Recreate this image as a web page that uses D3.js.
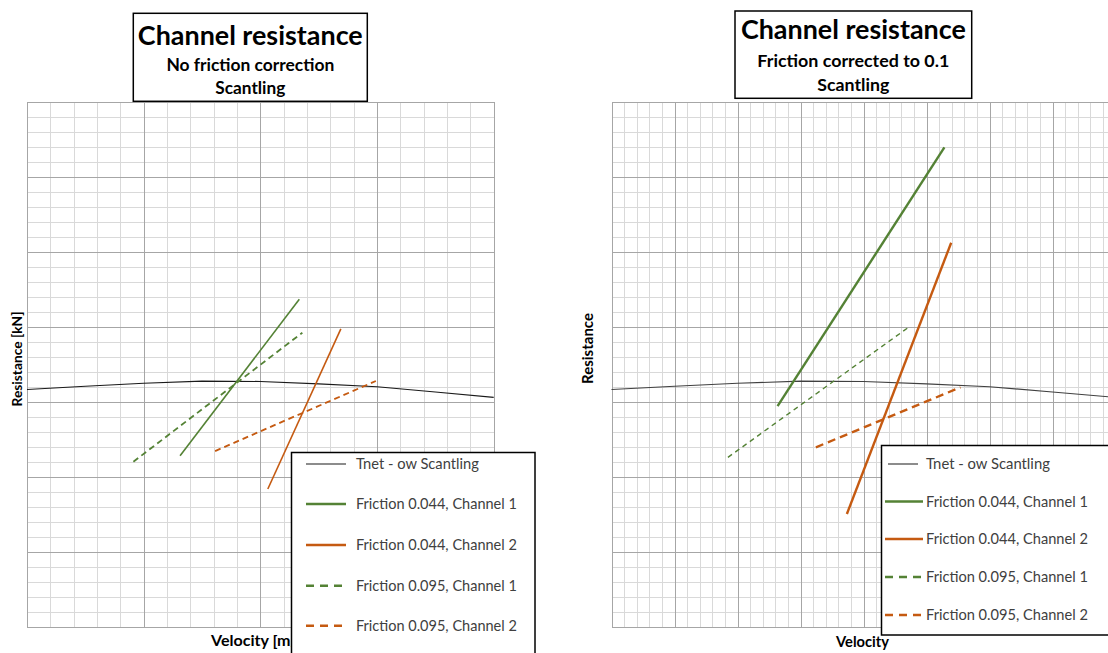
<!DOCTYPE html>
<html>
<head>
<meta charset="utf-8">
<script src="https://cdn.jsdelivr.net/npm/d3@7"></script>
<style>
  body { margin: 0; background: #fff; }
  svg { display: block; }
</style>
</head>
<body>
<div id="chart"></div>
<script>
// Velocity / resistance (grid units, no tick labels in the original)
const tnetVelocity = [0, 2.5, 5, 7.5, 10, 12.5, 15, 17.5, 20];
const tnetResistance = [15.83, 16.05, 16.25, 16.39, 16.37, 16.21, 16.02, 15.67, 15.31];

// Left chart: no friction correction
const noCorr044Ch1V = [6.56, 11.67], noCorr044Ch1R = [11.42, 21.85];
const noCorr044Ch2V = [10.32, 13.45], noCorr044Ch2R = [9.2, 19.87];
const noCorr095Ch1V = [4.56, 11.8], noCorr095Ch1R = [11.02, 19.62];
const noCorr095Ch2V = [8.06, 14.95], noCorr095Ch2R = [11.73, 16.4];

// Right chart: friction corrected to 0.1
const corr044Ch1V = [6.59, 13.21], corr044Ch1R = [14.73, 31.98];
const corr044Ch2V = [9.34, 13.48], corr044Ch2R = [7.53, 25.62];
const corr095Ch1V = [4.62, 11.86], corr095Ch1R = [11.31, 20.07];
const corr095Ch2V = [8.11, 13.85], corr095Ch2R = [11.98, 15.98];

const seriesNames = ["Tnet - ow Scantling", "Friction 0.044, Channel 1", "Friction 0.044, Channel 2",
  "Friction 0.095, Channel 1", "Friction 0.095, Channel 2"];

const velocityDomain = [0, 20];
const resistanceDomain = [0, 35];

// colours (Excel darker accents)
const green = "#548235", orange = "#c55a11";
const fontFam = "Lato, 'Open Sans', sans-serif";

var width = 1108, height = 653;
var svg = d3.select("#chart").append("svg").attr("width", width).attr("height", height);

// shrink/grow font so the text has the measured width of the original
function fit(t, w) {
  var l = t.node().getComputedTextLength();
  var fs = parseFloat(t.attr("font-size"));
  t.attr("font-size", fs * w / l);
  return t;
}

function zipPts(v, r) { return v.map((d, i) => [d, r[i]]); }

function drawChart(opt) {
  var x = d3.scaleLinear().domain(velocityDomain).range([opt.left, opt.right]);
  var y = d3.scaleLinear().domain(resistanceDomain).range([627, 102]);
  var g = svg.append("g");

  // gridlines, minor first then major
  var gx = (vals, col) => g.append("g")
    .attr("transform", "translate(0,627)")
    .call(d3.axisBottom(x).tickValues(vals).tickSize(-(627 - 102)).tickFormat(""))
    .call(s => s.select(".domain").remove())
    .selectAll("line").attr("stroke", col).attr("stroke-width", 1).attr("shape-rendering", "crispEdges");
  var gy = (vals, col) => g.append("g")
    .attr("transform", "translate(" + opt.left + ",0)")
    .call(d3.axisLeft(y).tickValues(vals).tickSize(-(opt.right - opt.left)).tickFormat(""))
    .call(s => s.select(".domain").remove())
    .selectAll("line").attr("stroke", col).attr("stroke-width", 1).attr("shape-rendering", "crispEdges");

  gx(d3.range(0, 20.001, opt.minorX), "#d9d9d9");
  gy(d3.range(0, 35.001, 1), "#d9d9d9");
  gx(d3.range(0, 20.001, opt.majorX), "#a6a6a6");
  gy(d3.range(0, 35.001, 5), "#a6a6a6");

  var line = d3.line().x(d => x(d[0])).y(d => y(d[1]));

  g.append("path").datum(zipPts(tnetVelocity, tnetResistance))
    .attr("d", line).attr("fill", "none").attr("stroke", opt.tnetColor).attr("stroke-width", 1.1);

  opt.series.forEach(function (s) {
    g.append("path").datum(zipPts(s.v, s.r))
      .attr("d", line).attr("fill", "none")
      .attr("stroke", s.color).attr("stroke-width", s.w)
      .attr("stroke-dasharray", s.dash || null);
  });

  // axis titles (drawn before the legend box, which covers part of the left one)
  var xl = g.append("text").attr("x", opt.xLabel.x).attr("y", opt.xLabel.y)
    .attr("text-anchor", "middle").attr("font-family", fontFam).attr("font-weight", 700)
    .attr("font-size", 14).attr("fill", "#000").text(opt.xLabel.text);
  fit(xl, opt.xLabel.w);
  var yl = g.append("text")
    .attr("transform", "translate(" + opt.yLabel.x + "," + opt.yLabel.y + ") rotate(-90)")
    .attr("text-anchor", "middle").attr("font-family", fontFam).attr("font-weight", 700)
    .attr("font-size", 14).attr("fill", "#000").text(opt.yLabel.text);
  fit(yl, opt.yLabel.w);

  // legend box
  g.append("rect").attr("x", opt.leg.x).attr("y", opt.leg.y)
    .attr("width", opt.leg.w).attr("height", opt.leg.h)
    .attr("fill", "#fff").attr("stroke", "#000").attr("stroke-width", 1.5);

  var legColors = [opt.tnetColor, green, orange, green, orange];
  var legDash = [null, null, null, opt.leg.dash, opt.leg.dash];
  var legW = [1.2, 2.5, 2.5, 2.5, 2.5];
  seriesNames.forEach(function (name, i) {
    var cy = opt.leg.rows[i];
    var sx0 = i == 0 ? opt.leg.tx0 : opt.leg.sx0, sx1 = i == 0 ? opt.leg.tx1 : opt.leg.sx1;
    g.append("line").attr("x1", sx0).attr("x2", sx1).attr("y1", cy).attr("y2", cy)
      .attr("stroke", legColors[i]).attr("stroke-width", legW[i])
      .attr("stroke-dasharray", legDash[i]);
    var t = g.append("text").attr("x", opt.leg.textX).attr("y", cy + 5)
      .attr("font-family", fontFam).attr("font-size", 15).attr("fill", "#404040")
      .text(name);
    fit(t, opt.leg.textW[i]);
  });

  // title box
  g.append("rect").attr("x", opt.title.x0).attr("y", opt.title.y0)
    .attr("width", opt.title.x1 - opt.title.x0).attr("height", opt.title.y1 - opt.title.y0)
    .attr("fill", "#fff").attr("stroke", "#000").attr("stroke-width", 1.5);
  var cx = (opt.title.x0 + opt.title.x1) / 2;
  opt.title.lines.forEach(function (ln) {
    var t = g.append("text").attr("x", cx).attr("y", ln.y)
      .attr("text-anchor", "middle").attr("font-family", fontFam)
      .attr("font-weight", 700).attr("font-size", ln.size).attr("fill", "#000")
      .text(ln.text);
    fit(t, ln.w);
  });
}

drawChart({
  left: 27, right: 493.7, minorX: 1, majorX: 5, tnetColor: "#1a1a1a",
  series: [
    { v: noCorr044Ch1V, r: noCorr044Ch1R, color: green, w: 1.6 },
    { v: noCorr044Ch2V, r: noCorr044Ch2R, color: orange, w: 1.6 },
    { v: noCorr095Ch1V, r: noCorr095Ch1R, color: green, w: 1.8, dash: "6,4" },
    { v: noCorr095Ch2V, r: noCorr095Ch2R, color: orange, w: 1.8, dash: "6,4" }
  ],
  leg: { x: 291.5, y: 452.5, w: 243.5, h: 230, rows: [464, 504, 545, 585.7, 625.7],
    sx0: 306, sx1: 346, tx0: 306, tx1: 346, dash: "8,6", textX: 356,
    textW: [123, 161, 161, 161, 161] },
  title: { x0: 133.3, x1: 367.3, y0: 13.3, y1: 101.3, lines: [
    { text: "Channel resistance", y: 45, size: 26, w: 225 },
    { text: "No friction correction", y: 71, size: 16, w: 168 },
    { text: "Scantling", y: 93.5, size: 16, w: 70 }] },
  xLabel: { text: "Velocity [m/s]", x: 260, y: 646, w: 98 },
  yLabel: { text: "Resistance [kN]", x: 22, y: 359, w: 95 }
});

drawChart({
  left: 611.5, right: 1115.5, minorX: 0.5, majorX: 2.5, tnetColor: "#404040",
  series: [
    { v: corr044Ch1V, r: corr044Ch1R, color: green, w: 2.4 },
    { v: corr044Ch2V, r: corr044Ch2R, color: orange, w: 2.4 },
    { v: corr095Ch1V, r: corr095Ch1R, color: green, w: 1.4, dash: "5,4" },
    { v: corr095Ch2V, r: corr095Ch2R, color: orange, w: 2.4, dash: "8,5" }
  ],
  leg: { x: 881.5, y: 445.5, w: 240, h: 189.5, rows: [464, 501.5, 539, 577, 615],
    sx0: 885, sx1: 923, tx0: 888, tx1: 918, dash: "8,6", textX: 926,
    textW: [124, 162, 162, 162, 162] },
  title: { x0: 735, x1: 971.7, y0: 11, y1: 98.3, lines: [
    { text: "Channel resistance", y: 39.3, size: 26, w: 225 },
    { text: "Friction corrected to 0.1", y: 66.7, size: 16, w: 192 },
    { text: "Scantling", y: 90.5, size: 16, w: 72 }] },
  xLabel: { text: "Velocity", x: 862.5, y: 647, w: 53 },
  yLabel: { text: "Resistance", x: 593, y: 348.5, w: 71 }
});
</script>
</body>
</html>
